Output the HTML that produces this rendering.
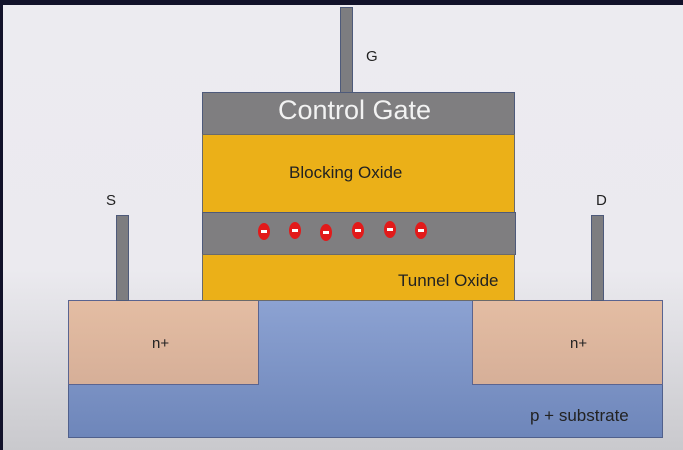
<!DOCTYPE html>
<html><head><style>
body{margin:0;width:683px;height:450px;overflow:hidden;font-family:"Liberation Sans",sans-serif;}
.bg{position:absolute;left:0;top:0;width:683px;height:450px;background:linear-gradient(#ecebf0 0%,#ebeaef 60%,#c9c9cd 100%);}
.a{position:absolute;box-sizing:border-box;}
.t{position:absolute;white-space:nowrap;color:#222;}
.e{position:absolute;width:12px;height:17px;border-radius:50%;background:#e21a1a;}
.e:after{content:"";position:absolute;left:3px;top:7px;width:6px;height:3px;background:#fff;}
</style></head><body>
<div class="bg"></div>
<div class="a" style="left:0;top:0;width:683px;height:5px;background:#12122a"></div>
<div class="a" style="left:0;top:0;width:3px;height:450px;background:#12122a"></div>
<div class="a" style="left:68px;top:300px;width:595px;height:138px;background:linear-gradient(#8ca2d2,#6e86ba);border:1px solid #50608c"></div>
<div class="a" style="left:68px;top:300px;width:191px;height:85px;background:linear-gradient(#e4bda3,#d6af98);border:1px solid #5a6490"></div>
<div class="a" style="left:472px;top:300px;width:191px;height:85px;background:linear-gradient(#e4bda3,#d6af98);border:1px solid #5a6490"></div>
<div class="a" style="left:340px;top:7px;width:13px;height:86px;background:#7d7d80;border:1px solid #4e5a7a"></div>
<div class="a" style="left:116px;top:215px;width:13px;height:86px;background:#7d7d80;border:1px solid #4e5a7a"></div>
<div class="a" style="left:591px;top:215px;width:13px;height:86px;background:#7d7d80;border:1px solid #4e5a7a"></div>
<div class="a" style="left:202px;top:92px;width:313px;height:43px;background:#7f7e80;border:1px solid #4e5a7a"></div>
<div class="a" style="left:202px;top:134px;width:313px;height:79px;background:#ebb018;border:1px solid #6a6a6a"></div>
<div class="a" style="left:202px;top:212px;width:314px;height:43px;background:#7f7e80;border:1px solid #4e5a7a"></div>
<div class="a" style="left:202px;top:254px;width:313px;height:47px;background:#ebb018;border:1px solid #6a6a6a"></div>
<div class="t" style="left:278px;top:95px;font-size:27px;color:#f2f2f2">Control Gate</div>
<div class="t" style="left:289px;top:163px;font-size:17px">Blocking Oxide</div>
<div class="t" style="left:398px;top:271px;font-size:17px">Tunnel Oxide</div>
<div class="t" style="left:366px;top:48px;font-size:15px">G</div>
<div class="t" style="left:106px;top:192px;font-size:15px">S</div>
<div class="t" style="left:596px;top:192px;font-size:15px">D</div>
<div class="t" style="left:152px;top:335px;font-size:15px">n+</div>
<div class="t" style="left:570px;top:335px;font-size:15px">n+</div>
<div class="t" style="left:530px;top:406px;font-size:17px">p + substrate</div>
<div class="e" style="left:258px;top:223px"></div>
<div class="e" style="left:289px;top:222px"></div>
<div class="e" style="left:320px;top:224px"></div>
<div class="e" style="left:352px;top:222px"></div>
<div class="e" style="left:384px;top:221px"></div>
<div class="e" style="left:415px;top:222px"></div>
</body></html>
